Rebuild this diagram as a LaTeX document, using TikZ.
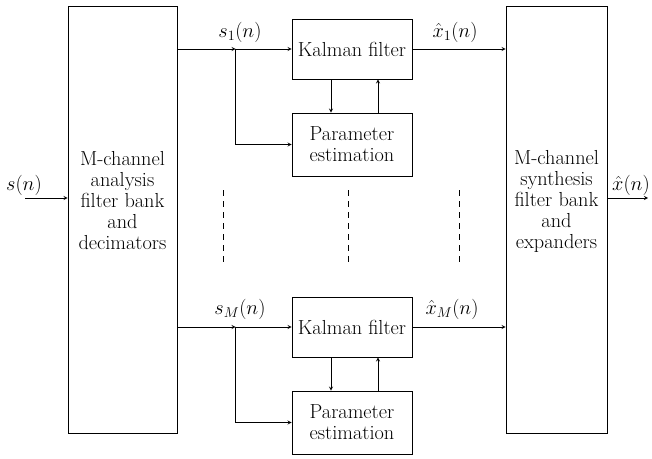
\documentclass[tikz,border=0pt]{standalone}
\usepackage{fix-cm}
\usepackage{fontspec}
\usepackage{amsmath}
\usepackage{tikz}
\usepgflibrary{arrows}

\tikzset{
  bank/.style={draw, inner sep=0pt, minimum height=427pt},
  blk/.style={draw, inner sep=0pt, align=center, minimum width=120pt},
  sig/.style={inner sep=1pt},
  gap/.style={dash pattern=on 6pt off 5pt},
}

\begin{document}
\begin{tikzpicture}[x=1pt,y=-1pt,line width=.8pt,font=\fontsize{20.3}{21}\selectfont]
\useasboundingbox (0,0) rectangle (652,458);
% filter banks
\node [bank, minimum width=109pt] (ana) at (122.5,219.5) {};
\node [bank, minimum width=101pt] (syn) at (556.5,219.5) {};
\node [align=center, inner sep=1pt] (anatxt) at (122.5,201) {M-channel\\analysis\\filter bank\\and\\decimators};
\node [align=center, inner sep=1pt] (syntxt) at (556.5,201) {M-channel\\synthesis\\filter bank\\and\\expanders};
% first and last channel
\node [blk, minimum height=60pt] (k1) at (352,49)    {Kalman filter};
\node [blk, minimum height=63pt] (p1) at (352,144.5) {Parameter\\estimation};
\node [blk, minimum height=60pt] (kM) at (352,327)   {Kalman filter};
\node [blk, minimum height=63pt] (pM) at (352,422.5) {Parameter\\estimation};
\coordinate (j1) at ([xshift=-56pt]k1.west);
\coordinate (jM) at ([xshift=-56pt]kM.west);
\coordinate (in)  at (25,198);
\coordinate (out) at (648,198);
% signal labels
\node [sig] (s1) at (240,32)  {$s_1(n)$};
\node [sig] (sM) at (240,309) {$s_M(n)$};
\node [sig] (x1) at (455,32)  {$\hat{x}_1(n)$};
\node [sig] (xM) at (452,309) {$\hat{x}_M(n)$};
\node [sig] (sn) at (24,185)  {$s(n)$};
\node [sig] (xn) at (631,185) {$\hat{x}(n)$};
\begin{scope}[-stealth]
	\draw (in) -- (ana.west |- in);
	\draw (syn.east |- out) -- (out);
	\draw (ana.east |- k1) -- (j1);
	\draw (j1) -- (k1.west);
	\draw (j1) |- (p1.west);
	\draw (ana.east |- kM) -- (jM);
	\draw (jM) -- (kM.west);
	\draw (jM) |- (pM.west);
	\draw ([xshift=-21pt]k1.south) -- ([xshift=-21pt]p1.north);
	\draw ([xshift=26pt]p1.north) -- ([xshift=26pt]k1.south);
	\draw ([xshift=-21pt]kM.south) -- ([xshift=-21pt]pM.north);
	\draw ([xshift=26pt]pM.north) -- ([xshift=26pt]kM.south);
	\draw (k1.east) -- (syn.west |- k1.east);
	\draw (kM.east) -- (syn.west |- kM.east);
\end{scope}
% channels 2 .. M-1 left out
\foreach \x in {223,348,459}
	\draw [gap] (\x,190) -- (\x,266);
\end{tikzpicture}
\end{document}
